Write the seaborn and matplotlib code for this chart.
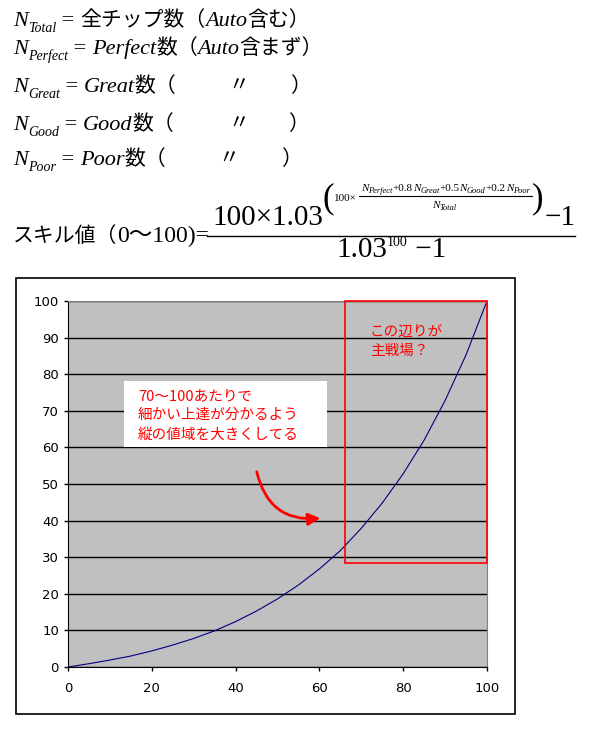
"""
skill value curve (Excel style chart) with the formula above it
"""

import matplotlib
matplotlib.use('Agg')
import numpy as np
import matplotlib.pyplot as plt
import seaborn as sns
from matplotlib.patches import Rectangle, FancyArrowPatch
from matplotlib.lines import Line2D

# values
rate_pct = [0, 5, 10, 15, 20, 25, 30, 35, 40, 45, 50,
            55, 60, 65, 70, 75, 80, 85, 90, 95, 100]
skill = [0, 0.9, 1.9, 3.0, 4.4, 6.0, 7.8, 9.9, 12.4, 15.3, 18.6,
         22.4, 26.8, 31.8, 37.9, 44.8, 52.8, 62.0, 72.8, 85.3, 100]
x_ticks = [0, 20, 40, 60, 80, 100]
y_ticks = [0, 10, 20, 30, 40, 50, 60, 70, 80, 90, 100]

note_box = ['70～100あたりで', '細かい上達が分かるよう', '縦の値域を大きくしてる']
note_zone = ['この辺りが', '主戦場？']

W, H = 591, 737
SERIF = 'Liberation Serif'
CJK = 'Noto Sans CJK JP'

fig = plt.figure(figsize=(W / 100, H / 100), dpi=100)
renderer = fig.canvas.get_renderer()

it = dict(family=SERIF, style='italic', fontsize=16)
rm = dict(family=SERIF, fontsize=16)
sub = dict(family=SERIF, style='italic', fontsize=10, dy=6)
cj = dict(family=[CJK], fontsize=15)


def put(x, y, parts, measure=False):
    # write text pieces one after another, x / baseline y in pixels from top-left
    for s, kw in parts:
        kw = dict(kw)
        dy = kw.pop('dy', 0)
        t = fig.text(x / W, 1 - (y + dy) / H, s, va='baseline', ha='left', **kw)
        x += t.get_window_extent(renderer).width
        if measure:
            t.remove()
    return x


def hline(x0, x1, y, lw=1):
    fig.lines.append(Line2D([x0 / W, x1 / W], [1 - y / H, 1 - y / H],
                            transform=fig.transFigure, color='black', lw=lw))


put(13, 26, [('N', it), ('Total', sub), (' = ', rm), ('全チップ数（', cj),
             ('Auto', it), ('含む）', cj)])
put(13, 54, [('N', it), ('Perfect', sub), (' = ', rm), ('Perfect', it),
             ('数（', cj), ('Auto', it), ('含まず）', cj)])
put(13, 92, [('N', it), ('Great', sub), (' = ', rm), ('Great', it), ('数（', cj)])
put(13, 130, [('N', it), ('Good', sub), (' = ', rm), ('Good', it), ('数（', cj)])
put(13, 165, [('N', it), ('Poor', sub), (' = ', rm), ('Poor', it), ('数（', cj)])
for y, xd, xp in [(92, 228, 290), (130, 228, 288), (165, 218, 281)]:
    put(xd, y, [('〃', cj)])
    put(xp, y, [('）', cj)])

# skill formula, built piece by piece
put(13, 242, [('スキル値（', dict(family=[CJK], fontsize=15)),
              ('0～100)=', dict(family=[SERIF, CJK], fontsize=17))])
big = dict(family=SERIF, fontsize=21)
paren = dict(family=SERIF, fontsize=25)
small = dict(family=SERIF, fontsize=8)
small_it = dict(family=SERIF, style='italic', fontsize=8)
tiny = dict(family=SERIF, style='italic', fontsize=6, dy=2)

put(212, 225, [('100×1.03', big)])
put(322, 207, [('(', paren)])
put(334, 201, [('100×', small)])
inner = [('N', small_it), ('Perfect', tiny), ('+0.8', small), ('N', small_it),
         ('Great', tiny), ('+0.5', small), ('N', small_it), ('Good', tiny),
         ('+0.2', small), ('N', small_it), ('Poor', tiny)]
x_end = put(361, 191, inner)
hline(359, x_end + 2, 196, lw=0.8)
w_tot = put(0, 0, [('N', small_it), ('Total', tiny)], measure=True)
put((359 + x_end) / 2 - w_tot / 2, 208, [('N', small_it), ('Total', tiny)])
x_par = put(x_end + 2, 207, [(')', paren)])
put(x_par + 1, 225, [('−1', big)])
hline(207, x_par + 32, 236, lw=1)
den = [('1.03', big), ('100', dict(family=SERIF, fontsize=10, dy=-11)),
       (' −1', big)]
w_den = put(0, 0, den, measure=True)
put((207 + x_par + 32) / 2 - w_den / 2, 257, den)

# outer chart frame
fig.patches.append(Rectangle((16 / W, 1 - 714 / H), 499 / W, 436 / H,
                             transform=fig.transFigure, fill=False,
                             edgecolor='black', lw=1.2))

ax = fig.add_axes([68 / W, 1 - 667 / H, (487 - 68) / W, (667 - 301) / H])
ax.set_facecolor('#c0c0c0')
sns.lineplot(x=rate_pct, y=skill, ax=ax, color='#000080', lw=0.8)

ax.set_xlim(0, 100)
ax.set_ylim(0, 100)
ax.set_xticks(x_ticks)
ax.set_yticks(y_ticks)
ax.yaxis.grid(True, color='black', lw=1)
ax.set_axisbelow(True)
ax.tick_params(direction='out', length=3, width=1, colors='black', labelsize=9.5)
ax.tick_params(axis='x', pad=8)
for lab in ax.get_xticklabels() + ax.get_yticklabels():
    lab.set_family('DejaVu Sans')
for side in ['left', 'bottom']:
    ax.spines[side].set_color('black')
for side in ['top', 'right']:
    ax.spines[side].set_color('#808080')

# the "main battlefield" zone
ax.add_patch(Rectangle((66, 28.5), 34, 71.5, fill=False, edgecolor='red',
                       lw=1.2, clip_on=False, zorder=4))
ax.text(72, 91.5, note_zone[0], color='red', fontsize=10.5, family=[CJK],
        va='center', ha='left')
ax.text(72, 86.3, note_zone[1], color='red', fontsize=10.5, family=[CJK],
        va='center', ha='left')

# white note box
ax.add_patch(Rectangle((13.4, 60.1), 48.4, 18, facecolor='white',
                       edgecolor='none', zorder=3))
for y, s in zip([74.0, 68.9, 63.4], note_box):
    ax.text(16.7, y, s, color='red', fontsize=10.5, family=[CJK],
            va='center', ha='left', zorder=4)

ax.add_patch(FancyArrowPatch((44.9, 54.1), (60.9, 40.7),
                             connectionstyle='arc3,rad=0.45',
                             arrowstyle='-|>', mutation_scale=18,
                             color='red', lw=2, zorder=4))

fig.savefig('out.png', dpi=100)
